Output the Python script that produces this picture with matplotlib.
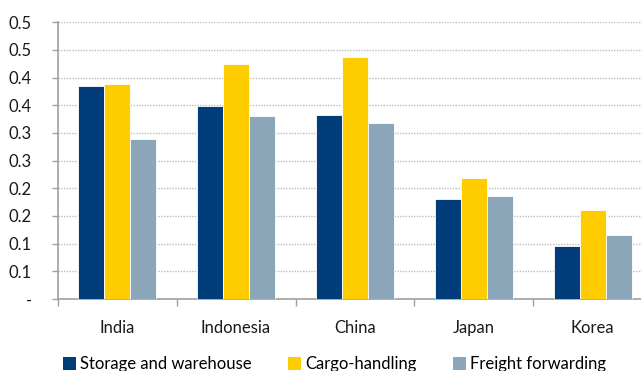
import matplotlib
matplotlib.use("Agg")
import matplotlib.pyplot as plt
import numpy as np
from matplotlib.patches import Patch

categories = ["India", "Indonesia", "China", "Japan", "Korea"]
storage = [0.384, 0.348, 0.333, 0.181, 0.095]
cargo = [0.389, 0.425, 0.437, 0.219, 0.160]
freight = [0.290, 0.330, 0.318, 0.186, 0.115]
series_names = ["Storage and warehouse", "Cargo-handling", "Freight forwarding"]
colors = ["#003d7a", "#ffcc00", "#8ca6b9"]
ytick_values = [0.0, 0.05, 0.10, 0.15, 0.20, 0.25, 0.30, 0.35, 0.40, 0.45, 0.50]
ytick_labels = ["-", "0.1", "0.1", "0.2", "0.2", "0.3", "0.3", "0.4", "0.4", "0.5", "0.5"]

plt.rcParams["font.family"] = ["Lato", "DejaVu Sans"]

fig = plt.figure(figsize=(6.41, 3.71), dpi=100)
ax = fig.add_axes([57.7 / 641, 72 / 371, 594.5 / 641, 276.7 / 371])

x = np.arange(len(categories))
w = 0.22
for i, vals in enumerate([storage, cargo, freight]):
    ax.bar(x + (i - 1) * w, vals, w, color=colors[i], edgecolor="white",
           linewidth=0.6, zorder=3)

ax.set_xlim(-0.5, len(categories) - 0.5)
ax.set_ylim(0, 0.5)
ax.set_yticks(ytick_values)
ax.set_yticklabels(ytick_labels, fontsize=12, color="#1a1a1a")
ax.tick_params(axis="y", length=4.5, width=1, color="#a0a0a0", pad=14)

ax.set_xticks(x)
ax.set_xticklabels(categories, fontsize=12, color="#1a1a1a")
ax.tick_params(axis="x", length=0, pad=15)
ax.set_xticks(np.arange(len(categories) + 1) - 0.5, minor=True)
ax.tick_params(axis="x", which="minor", length=5, width=1, color="#a0a0a0")

ax.grid(axis="y", linestyle=(0, (1, 1)), color="#bdbdbd", linewidth=1, zorder=0)
for s in ["top", "right"]:
    ax.spines[s].set_visible(False)
for s in ["left", "bottom"]:
    ax.spines[s].set_color("#a0a0a0")
    ax.spines[s].set_linewidth(1.2)

handles = [Patch(facecolor=c, edgecolor="none") for c in colors]
fig.legend(handles, series_names, loc="center", bbox_to_anchor=(0.522, 0.018),
           ncol=3, frameon=False, fontsize=12, handlelength=0.75,
           handleheight=0.75, handletextpad=0.25, columnspacing=2.2)

fig.savefig("out.png", dpi=100)
